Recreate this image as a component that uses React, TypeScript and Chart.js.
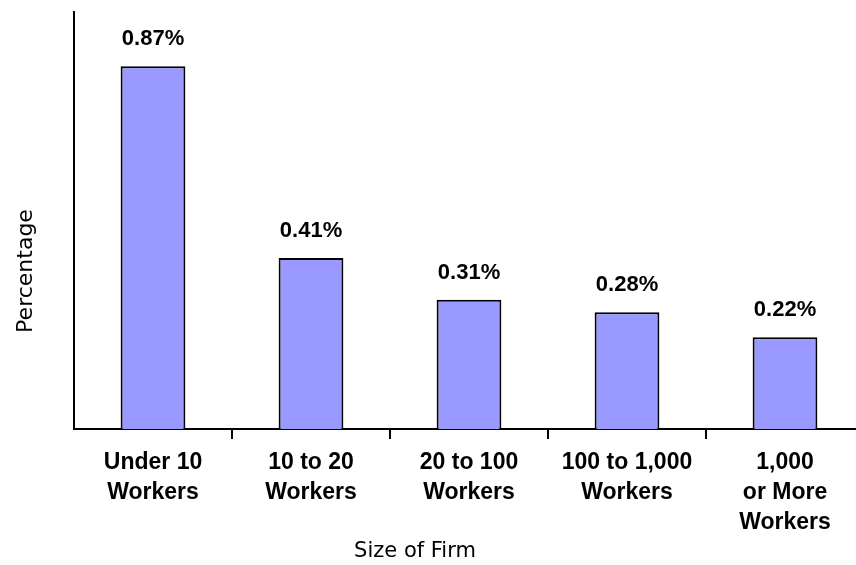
import React, { useEffect, useRef } from "react";
import { Chart, registerables } from "chart.js";

Chart.register(...registerables);

const categories: string[][] = [
  ["Under 10", "Workers"],
  ["10 to 20", "Workers"],
  ["20 to 100", "Workers"],
  ["100 to 1,000", "Workers"],
  ["1,000", "or More", "Workers"],
];
const values: number[] = [0.87, 0.41, 0.31, 0.28, 0.22];
const valueLabels: string[] = ["0.87%", "0.41%", "0.31%", "0.28%", "0.22%"];
const xTitle = "Size of Firm";
const yTitle = "Percentage";

const valueLabelPlugin = {
  id: "valueLabels",
  afterDatasetsDraw(chart: any) {
    const ctx = chart.ctx;
    const meta = chart.getDatasetMeta(0);
    ctx.save();
    ctx.font = "bold 22px 'Liberation Sans'";
    ctx.fillStyle = "#000";
    ctx.textAlign = "center";
    ctx.textBaseline = "alphabetic";
    meta.data.forEach((bar: any, i: number) => {
      ctx.fillText(valueLabels[i], bar.x, bar.y - 21);
    });
    ctx.restore();
  },
};

const axisTitlePlugin = {
  id: "axisTitles",
  afterDraw(chart: any) {
    const ctx = chart.ctx;
    const area = chart.chartArea;
    ctx.save();
    ctx.fillStyle = "#000";
    ctx.textAlign = "center";
    ctx.textBaseline = "alphabetic";
    ctx.font = "21px 'DejaVu Sans'";
    ctx.fillText(xTitle, area.left + 341, area.bottom + 128);
    ctx.translate(area.left - 42, area.top + 259);
    ctx.rotate(-Math.PI / 2);
    ctx.font = "22px 'DejaVu Sans'";
    ctx.fillText(yTitle, 0, 0);
    ctx.restore();
  },
};

export default function App() {
  const ref = useRef<HTMLCanvasElement>(null);
  useEffect(() => {
    if (!ref.current) return;
    const chart = new Chart(ref.current, {
      type: "bar",
      data: {
        labels: categories,
        datasets: [
          {
            data: values,
            backgroundColor: "#9999ff",
            borderColor: "#000",
            borderWidth: 2,
            categoryPercentage: 1,
            barPercentage: 0.41,
          },
        ],
      },
      options: {
        responsive: false,
        animation: false,
        layout: { padding: { top: 12, right: 6, left: 0, bottom: 0 } },
        plugins: { legend: { display: false }, tooltip: { enabled: false } },
        scales: {
          x: {
            grid: {
              display: true,
              drawOnChartArea: false,
              drawTicks: true,
              tickLength: 10,
              color: "#000",
              lineWidth: (c: any) => (c.index === 0 ? 0 : 2),
              offset: true,
            },
            border: { display: true, color: "#000", width: 2 },
            ticks: {
              color: "#000",
              font: { family: "'Liberation Sans'", size: 23, weight: "bold", lineHeight: 1.32 },
              padding: 8,
              maxRotation: 0,
              autoSkip: false,
            },
            afterFit: (s: any) => {
              s.height = 565 - 429;
            },
          },
          y: {
            min: 0,
            max: 1.0,
            grid: { display: false },
            border: { display: true, color: "#000", width: 2 },
            ticks: { display: false },
            afterFit: (s: any) => {
              s.width = 74;
            },
          },
        },
      },
      plugins: [valueLabelPlugin, axisTitlePlugin],
    });
    return () => chart.destroy();
  }, []);
  return (
    <div
      style={{
        position: "fixed",
        left: 0,
        top: 0,
        width: 856,
        height: 565,
        overflow: "hidden",
        background: "#fff",
      }}
    >
      <canvas ref={ref} width={870} height={565} style={{ display: "block" }} />
    </div>
  );
}
